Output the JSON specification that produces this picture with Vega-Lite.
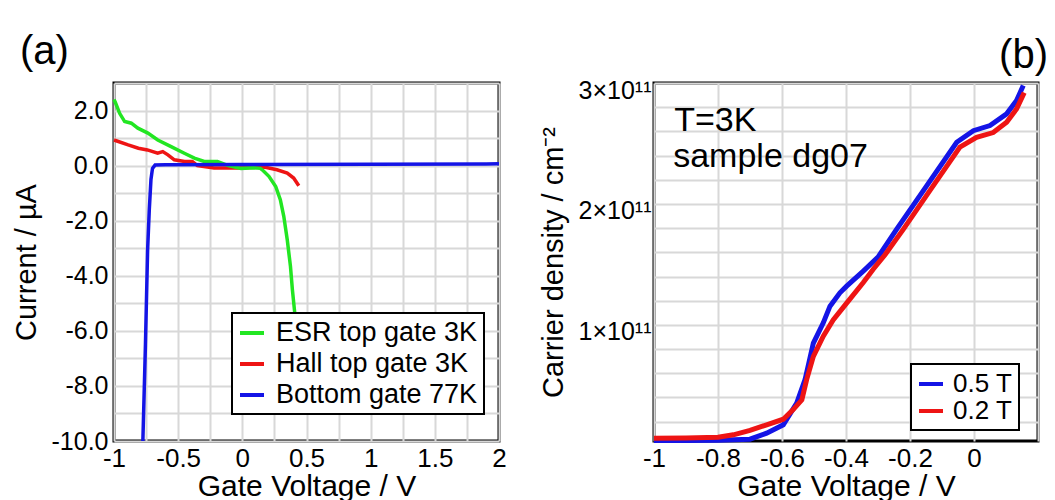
{
  "$schema": "https://vega.github.io/schema/vega-lite/v6.json",
  "background": "white",
  "padding": {"left": 10, "top": 30, "right": 0, "bottom": 0},
  "spacing": 29,
  "resolve": {"scale": {"color": "independent"}, "legend": {"color": "independent"}},
  "config": {
    "font": "Liberation Sans",
    "view": {"stroke": "black", "strokeWidth": 3},
    "axis": {
      "domain": false, "ticks": false, "tickSize": 0, "grid": true,
      "gridColor": "#d8d8d8", "gridWidth": 2,
      "labelFontSize": 25, "labelColor": "black", "labelFlush": false, "labelOverlap": false, "labelPadding": 6,
      "titleFontSize": 29, "titleFontWeight": "normal", "titleColor": "black"
    },
    "axisX": {"titlePadding": 0, "labelPadding": 4, "labelFontSize": 26, "titleFontSize": 30},
    "axisY": {"titlePadding": 10},
    "legend": {"strokeWidth": 2},
    "title": {"fontSize": 40, "fontWeight": "normal", "color": "black", "frame": "group"}
  },
  "datasets": {
    "a": [
      {"series": "Hall top gate 3K", "V": -1.0, "I": 0.93},
      {"series": "Hall top gate 3K", "V": -0.89, "I": 0.75},
      {"series": "Hall top gate 3K", "V": -0.81, "I": 0.63},
      {"series": "Hall top gate 3K", "V": -0.74, "I": 0.57},
      {"series": "Hall top gate 3K", "V": -0.66, "I": 0.45},
      {"series": "Hall top gate 3K", "V": -0.62, "I": 0.51},
      {"series": "Hall top gate 3K", "V": -0.58, "I": 0.39},
      {"series": "Hall top gate 3K", "V": -0.53, "I": 0.21},
      {"series": "Hall top gate 3K", "V": -0.45, "I": 0.15},
      {"series": "Hall top gate 3K", "V": -0.39, "I": 0.15},
      {"series": "Hall top gate 3K", "V": -0.35, "I": 0.0},
      {"series": "Hall top gate 3K", "V": -0.22, "I": -0.09},
      {"series": "Hall top gate 3K", "V": -0.04, "I": -0.09},
      {"series": "Hall top gate 3K", "V": 0.17, "I": -0.05},
      {"series": "Hall top gate 3K", "V": 0.27, "I": -0.15},
      {"series": "Hall top gate 3K", "V": 0.35, "I": -0.27},
      {"series": "Hall top gate 3K", "V": 0.40, "I": -0.45},
      {"series": "Hall top gate 3K", "V": 0.44, "I": -0.73},
      {"series": "ESR top gate 3K", "V": -1.0, "I": 2.4},
      {"series": "ESR top gate 3K", "V": -0.99, "I": 2.3},
      {"series": "ESR top gate 3K", "V": -0.956, "I": 1.9},
      {"series": "ESR top gate 3K", "V": -0.917, "I": 1.6},
      {"series": "ESR top gate 3K", "V": -0.865, "I": 1.54},
      {"series": "ESR top gate 3K", "V": -0.814, "I": 1.36},
      {"series": "ESR top gate 3K", "V": -0.736, "I": 1.18},
      {"series": "ESR top gate 3K", "V": -0.659, "I": 0.93},
      {"series": "ESR top gate 3K", "V": -0.555, "I": 0.69},
      {"series": "ESR top gate 3K", "V": -0.452, "I": 0.45},
      {"series": "ESR top gate 3K", "V": -0.374, "I": 0.27},
      {"series": "ESR top gate 3K", "V": -0.297, "I": 0.15},
      {"series": "ESR top gate 3K", "V": -0.194, "I": 0.15},
      {"series": "ESR top gate 3K", "V": -0.11, "I": 0.0},
      {"series": "ESR top gate 3K", "V": -0.01, "I": -0.1},
      {"series": "ESR top gate 3K", "V": 0.09, "I": -0.08},
      {"series": "ESR top gate 3K", "V": 0.14, "I": -0.1},
      {"series": "ESR top gate 3K", "V": 0.155, "I": -0.15},
      {"series": "ESR top gate 3K", "V": 0.207, "I": -0.39},
      {"series": "ESR top gate 3K", "V": 0.26, "I": -0.76},
      {"series": "ESR top gate 3K", "V": 0.296, "I": -1.24},
      {"series": "ESR top gate 3K", "V": 0.323, "I": -1.84},
      {"series": "ESR top gate 3K", "V": 0.35, "I": -2.69},
      {"series": "ESR top gate 3K", "V": 0.375, "I": -3.66},
      {"series": "ESR top gate 3K", "V": 0.39, "I": -4.5},
      {"series": "ESR top gate 3K", "V": 0.408, "I": -5.33},
      {"series": "Bottom gate 77K", "V": -0.775, "I": -10.0},
      {"series": "Bottom gate 77K", "V": -0.755, "I": -6.5},
      {"series": "Bottom gate 77K", "V": -0.738, "I": -3.05},
      {"series": "Bottom gate 77K", "V": -0.725, "I": -1.6},
      {"series": "Bottom gate 77K", "V": -0.712, "I": -0.5},
      {"series": "Bottom gate 77K", "V": -0.70, "I": -0.1},
      {"series": "Bottom gate 77K", "V": -0.68, "I": 0.02},
      {"series": "Bottom gate 77K", "V": -0.6, "I": 0.03},
      {"series": "Bottom gate 77K", "V": 0.0, "I": 0.04},
      {"series": "Bottom gate 77K", "V": 1.0, "I": 0.05},
      {"series": "Bottom gate 77K", "V": 1.9, "I": 0.06},
      {"series": "Bottom gate 77K", "V": 2.0, "I": 0.07}
    ],
    "b": [
      {"B": "0.5 T", "V": -1.0, "n": 4500000000},
      {"B": "0.5 T", "V": -0.9, "n": 4500000000},
      {"B": "0.5 T", "V": -0.8, "n": 4700000000},
      {"B": "0.5 T", "V": -0.7, "n": 5500000000},
      {"B": "0.5 T", "V": -0.648, "n": 10500000000},
      {"B": "0.5 T", "V": -0.596, "n": 17400000000},
      {"B": "0.5 T", "V": -0.554, "n": 35300000000},
      {"B": "0.5 T", "V": -0.528, "n": 54700000000},
      {"B": "0.5 T", "V": -0.502, "n": 85000000000},
      {"B": "0.5 T", "V": -0.471, "n": 101700000000},
      {"B": "0.5 T", "V": -0.45, "n": 115500000000},
      {"B": "0.5 T", "V": -0.419, "n": 126500000000},
      {"B": "0.5 T", "V": -0.398, "n": 132000000000},
      {"B": "0.5 T", "V": -0.346, "n": 144500000000},
      {"B": "0.5 T", "V": -0.3, "n": 156000000000},
      {"B": "0.5 T", "V": -0.242, "n": 179000000000},
      {"B": "0.5 T", "V": -0.148, "n": 215000000000},
      {"B": "0.5 T", "V": -0.054, "n": 251000000000},
      {"B": "0.5 T", "V": -0.002, "n": 260600000000},
      {"B": "0.5 T", "V": 0.05, "n": 264800000000},
      {"B": "0.5 T", "V": 0.102, "n": 274500000000},
      {"B": "0.5 T", "V": 0.133, "n": 285500000000},
      {"B": "0.5 T", "V": 0.154, "n": 298000000000},
      {"B": "0.2 T", "V": -1.0, "n": 6300000000},
      {"B": "0.2 T", "V": -0.9, "n": 6500000000},
      {"B": "0.2 T", "V": -0.8, "n": 7100000000},
      {"B": "0.2 T", "V": -0.752, "n": 9100000000},
      {"B": "0.2 T", "V": -0.7, "n": 12700000000},
      {"B": "0.2 T", "V": -0.648, "n": 17400000000},
      {"B": "0.2 T", "V": -0.596, "n": 22000000000},
      {"B": "0.2 T", "V": -0.565, "n": 30000000000},
      {"B": "0.2 T", "V": -0.538, "n": 38000000000},
      {"B": "0.2 T", "V": -0.523, "n": 54700000000},
      {"B": "0.2 T", "V": -0.502, "n": 74000000000},
      {"B": "0.2 T", "V": -0.471, "n": 90600000000},
      {"B": "0.2 T", "V": -0.44, "n": 104000000000},
      {"B": "0.2 T", "V": -0.398, "n": 118000000000},
      {"B": "0.2 T", "V": -0.346, "n": 135000000000},
      {"B": "0.2 T", "V": -0.315, "n": 146000000000},
      {"B": "0.2 T", "V": -0.278, "n": 158000000000},
      {"B": "0.2 T", "V": -0.221, "n": 179000000000},
      {"B": "0.2 T", "V": -0.138, "n": 211000000000},
      {"B": "0.2 T", "V": -0.044, "n": 247000000000},
      {"B": "0.2 T", "V": 0.008, "n": 255000000000},
      {"B": "0.2 T", "V": 0.06, "n": 259000000000},
      {"B": "0.2 T", "V": 0.102, "n": 267500000000},
      {"B": "0.2 T", "V": 0.133, "n": 278600000000},
      {"B": "0.2 T", "V": 0.157, "n": 292000000000}
    ]
  },
  "hconcat": [
    {
      "width": 385,
      "height": 358,
      "title": {"text": "(a)", "anchor": "start", "dx": -94, "offset": -1},
      "data": {"name": "a"},
      "mark": {"type": "line", "strokeWidth": 3.5},
      "encoding": {
        "x": {
          "field": "V", "type": "quantitative",
          "scale": {"domain": [-1, 2], "nice": false, "zero": false},
          "axis": {
            "title": "Gate Voltage / V",
            "labelOverlap": false,
            "values": [-1, -0.75, -0.5, -0.25, 0, 0.25, 0.5, 0.75, 1, 1.25, 1.5, 1.75, 2],
            "labelExpr": "datum.value * 2 == round(datum.value * 2) ? (datum.value < 0 ? '-' : '') + format(abs(datum.value), '~g') : ''"
          }
        },
        "y": {
          "field": "I", "type": "quantitative",
          "scale": {"domain": [-10, 3], "nice": false, "zero": false},
          "axis": {
            "title": "Current / µA",
            "labelOverlap": false,
            "values": [-10, -9, -8, -7, -6, -5, -4, -3, -2, -1, 0, 1, 2, 3],
            "labelExpr": "datum.value % 2 == 0 ? (datum.value < 0 ? '-' : '') + format(abs(datum.value), '.1f') : ''"
          }
        },
        "color": {
          "field": "series", "type": "nominal",
          "scale": {"domain": ["ESR top gate 3K", "Hall top gate 3K", "Bottom gate 77K"], "range": ["#22e622", "#ee1414", "#1414e6"]},
          "legend": {
            "title": null, "orient": "none", "legendX": 118, "legendY": 230,
            "fillColor": "white", "strokeColor": "black", "padding": 6, "cornerRadius": 0,
            "labelFontSize": 27, "labelColor": "black", "labelOffset": 10, "rowPadding": 4, "labelLimit": 400,
            "symbolType": "stroke", "symbolStrokeWidth": 4, "symbolSize": 576
          }
        }
      }
    },
    {
      "width": 384,
      "height": 358,
      "title": {"text": "(b)", "anchor": "end", "dx": 10, "offset": -1},
      "resolve": {"axis": {"y": "independent"}},
      "layer": [
        {
          "data": {"name": "b"},
          "mark": {"type": "line", "strokeWidth": 5},
          "encoding": {
            "x": {
              "field": "V", "type": "quantitative",
              "scale": {"domain": [-1, 0.2], "nice": false, "zero": false},
              "axis": {
                "title": "Gate Voltage / V",
                "labelOverlap": false,
                "values": [-1, -0.9, -0.8, -0.7, -0.6, -0.5, -0.4, -0.3, -0.2, -0.1, 0, 0.1, 0.2],
                "labelExpr": "datum.value < 0.001 && abs(datum.value * 5 - round(datum.value * 5)) < 0.001 ? (datum.value < 0 ? '-' : '') + format(abs(datum.value), '~g') : ''"
              }
            },
            "y": {
              "field": "n", "type": "quantitative",
              "scale": {"domain": [4000000000, 300000000000], "nice": false, "zero": false},
              "axis": {
                "orient": "left",
                "title": null,
                "labels": false,
                "values": [20000000000, 40000000000, 60000000000, 80000000000, 100000000000, 120000000000, 140000000000, 160000000000, 180000000000, 200000000000, 220000000000, 240000000000, 260000000000, 280000000000, 300000000000]
              }
            },
            "color": {
              "field": "B", "type": "nominal",
              "scale": {"domain": ["0.5 T", "0.2 T"], "range": ["#1414e6", "#ee1414"]},
              "legend": {
                "title": null, "orient": "none", "legendX": 257, "legendY": 281,
                "fillColor": "white", "strokeColor": "black", "padding": 6, "cornerRadius": 0,
                "labelFontSize": 26, "labelColor": "black", "labelOffset": 8, "rowPadding": 0, "labelLimit": 400,
                "symbolType": "stroke", "symbolStrokeWidth": 4, "symbolSize": 576
              }
            }
          }
        },
        {
          "data": {"values": [{}]},
          "mark": {"type": "text", "text": "T=3K", "fontSize": 34, "align": "left", "baseline": "alphabetic", "color": "black"},
          "encoding": {
            "x": {"datum": -0.937, "type": "quantitative"},
            "y": {
              "datum": 260600000000, "type": "quantitative",
              "axis": {
                "orient": "left",
                "title": "Carrier density / cm⁻²",
                "grid": false,
                "labelOverlap": false,
                "labelPadding": 3,
                "labelOffset": 7,
                "values": [100000000000, 200000000000, 300000000000],
                "labelExpr": "(datum.value / 100000000000) + '×10¹¹'"
              }
            }
          }
        },
        {
          "data": {"values": [{}]},
          "mark": {"type": "text", "text": "sample dg07", "fontSize": 34, "align": "left", "baseline": "alphabetic", "color": "black"},
          "encoding": {
            "x": {"datum": -0.94, "type": "quantitative"},
            "y": {"datum": 230200000000, "type": "quantitative", "axis": null}
          }
        }
      ]
    }
  ]
}
